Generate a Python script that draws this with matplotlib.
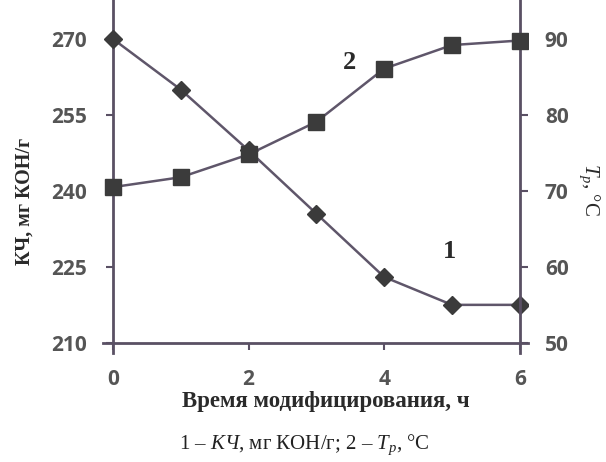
import matplotlib
matplotlib.use("Agg")
import matplotlib.pyplot as plt

hours = [0, 1, 2, 3, 4, 5, 6]
acid_number = [270, 260, 248, 235.5, 223, 217.5, 217.5]      # КЧ, мг КОН/г (curve 1)
soft_temp = [70.5, 71.8, 74.8, 79.1, 86.1, 89.2, 89.8]       # T_р, °C (curve 2)
x_ticks = [0, 2, 4, 6]
left_ticks = [210, 225, 240, 255, 270]
right_ticks = [50, 60, 70, 80, 90]

plt.rcParams['mathtext.fontset'] = 'custom'
plt.rcParams['mathtext.rm'] = 'Liberation Serif'
plt.rcParams['mathtext.it'] = 'Liberation Serif:italic'
plt.rcParams['mathtext.bf'] = 'Liberation Serif:bold'

line_c = '#5f566a'
mark_c = '#3b3b3b'
tick_c = '#555555'
spine_c = '#5a5064'

fig = plt.figure(figsize=(6.06, 4.62), dpi=100)
ax = fig.add_axes([0.170, 0.236, 0.701, 0.764])
ax.set_xlim(-0.147, 6.118)
ylo, yhi = 208.0, 277.7
ax.set_ylim(ylo, yhi)

ax2 = ax.twinx()
conv = lambda v: 50 + (v - 210) * 40.0 / 60.0
ax2.set_ylim(conv(ylo), conv(yhi))

ax.plot(hours, acid_number, color=line_c, lw=1.8, marker='D', ms=9,
        mfc=mark_c, mec=mark_c, zorder=3)
ax2.plot(hours, soft_temp, color=line_c, lw=1.8, marker='s', ms=11,
         mfc=mark_c, mec=mark_c, zorder=3)

for a in (ax, ax2):
    a.spines['top'].set_visible(False)
ax.spines['right'].set_visible(False)
ax2.spines['left'].set_visible(False)
ax2.spines['bottom'].set_visible(False)
ax.spines['left'].set_position(('data', 0))
ax.spines['bottom'].set_position(('data', 210))
ax2.spines['right'].set_position(('data', 6))
for s in (ax.spines['left'], ax.spines['bottom'], ax2.spines['right']):
    s.set_color(spine_c)
    s.set_linewidth(2)

tick_font = dict(family='Open Sans', weight='bold', size=15)
ax.set_xticks(x_ticks)
ax.set_xticklabels([str(t) for t in x_ticks], fontdict=tick_font, color=tick_c)
ax.set_yticks(left_ticks)
ax.set_yticklabels([str(t) for t in left_ticks], fontdict=tick_font, color=tick_c)
ax2.set_yticks(right_ticks)
ax2.set_yticklabels([str(t) for t in right_ticks], fontdict=tick_font, color=tick_c)
ax.tick_params(axis='x', direction='out', length=5, width=1.5, color=spine_c, pad=14)
ax.tick_params(axis='y', direction='out', length=5, width=1.5, color=spine_c, pad=14)
ax2.tick_params(axis='y', direction='out', length=6, width=1.5, color=spine_c, pad=12)

fig.text(0.538, 0.131, 'Время модифицирования, ч', family='Liberation Serif',
         weight='bold', size=16.5, color='#2a2a2a', ha='center', va='center')
fig.text(0.040, 0.563, 'КЧ, мг КОН/г', family='Liberation Serif', weight='bold',
         size=14.5, color='#2a2a2a', ha='center', va='center', rotation=90)
fig.text(0.973, 0.590, r'$\mathit{T}_{р}$, °C', family='Liberation Serif',
         size=15, color='#2a2a2a', ha='center', va='center', rotation=270)

ax.text(3.49, 265.3, '2', family='Liberation Serif', weight='bold', size=19,
        color='#2a2a2a', ha='center', va='center')
ax.text(4.97, 228, '1', family='Liberation Serif', weight='bold', size=19,
        color='#2a2a2a', ha='center', va='center')

fig.text(0.503, 0.037, r'$\mathit{1}$ – $\mathit{КЧ}$, мг КОН/г; $\mathit{2}$ – $\mathit{T}_{р}$, °C',
         family='Liberation Serif', size=15, color='#222222', ha='center', va='center')

fig.savefig('out.png', dpi=100)
